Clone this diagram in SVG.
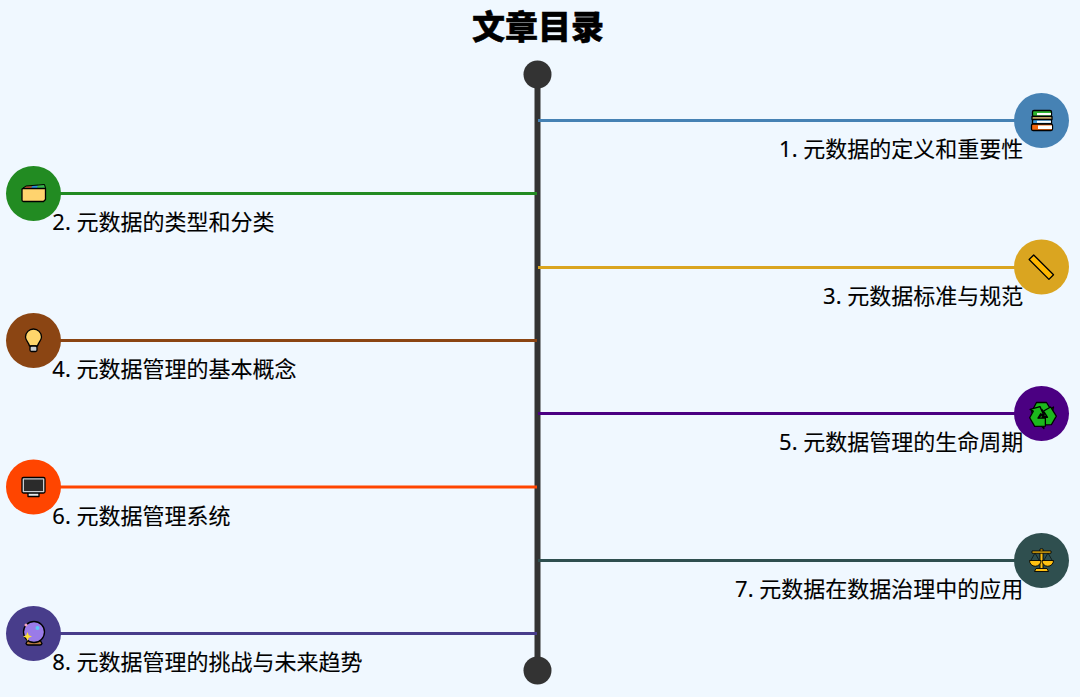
<svg xmlns="http://www.w3.org/2000/svg" width="1080" height="697" viewBox="0 0 1080 697">
<style>
text{font-family:"Noto Sans","Noto Sans CJK SC",sans-serif;fill:#000}
.t{font-size:22px;stroke:#000;stroke-width:.12px}
.r{text-anchor:end}
.title{font-size:33px;font-weight:900;text-anchor:middle;stroke:#000;stroke-width:.5px}
.c{stroke-width:3;fill:none}
.k{stroke:#000;stroke-width:1.300;stroke-linejoin:round}
</style>
<defs>
<path id="arm" d="M-6-12.500H4L8-6 11-8 8.500 2-1 1 2-1-.5-5.500-4 1-11-3z"/>
</defs>
<rect width="1080" height="697" fill="#F0F8FF"/>
<text id="title" class="title" x="538" y="39">文章目录</text>
<g id="timeline">
<line x1="537.5" y1="75" x2="537.5" y2="670" stroke="#333" stroke-width="6"/>
<circle cx="537.5" cy="74.5" r="14" fill="#333"/>
<circle cx="537.5" cy="670.5" r="14" fill="#333"/>
</g>
<g id="connectors" class="c">
<line x1="538" y1="120.5" x2="1041" y2="120.5" stroke="#4682B4"/>
<line x1="34" y1="193.5" x2="537" y2="193.5" stroke="#228B22"/>
<line x1="538" y1="267.5" x2="1041" y2="267.5" stroke="#DAA520"/>
<line x1="34" y1="340.5" x2="537" y2="340.5" stroke="#8B4513"/>
<line x1="538" y1="413.5" x2="1041" y2="413.5" stroke="#4B0082"/>
<line x1="34" y1="487" x2="537" y2="487" stroke="#FF4500"/>
<line x1="538" y1="560.5" x2="1041" y2="560.5" stroke="#2F4F4F"/>
<line x1="34" y1="633.500" x2="537" y2="633.500" stroke="#483D8B"/>
</g>
<g id="node1">
<circle cx="1041.500" cy="120.500" r="27.500" fill="#4682B4"/>
<g class="k">
<rect x="1032.500" y="110.500" width="19" height="6" rx="1.500" fill="#2DB52D"/><rect x="1037" y="113" width="14" height="2.200" fill="#fff" stroke="none"/>
<rect x="1032" y="116.500" width="20" height="3" fill="#FFD983"/>
<rect x="1032.500" y="119.500" width="19" height="4.500" rx="1" fill="#3C9BE0"/><rect x="1037" y="120.800" width="14" height="2" fill="#fff" stroke="none"/>
<rect x="1031.500" y="124" width="21" height="6.500" rx="1.500" fill="#F4660F"/><rect x="1038" y="125.500" width="14" height="3.500" fill="#fff" stroke="none"/>
</g>
</g>
<text class="t r" x="1023.300" y="157">1. 元数据的定义和重要性</text>
<g id="node2">
<circle cx="33.500" cy="193.500" r="27.500" fill="#228B22"/>
<path d="M24 189 26 186.500H33L34 189z" fill="#E8483C"/>
<path d="M31 188 33 185.500H39L40 188z" fill="#2B8FE0"/>
<path d="M37 188 38 184.500H44L45.500 188z" fill="#39B54A"/>
<path d="M23 188 26 186 44.500 184.500 45.500 188" fill="none" stroke="#000"/>
<path class="k" d="M22 189.500Q22 188.500 23 188.500H45.500V199.500L43.500 201.500H23.500Q22 201.500 22 200z" fill="#FFD36E"/>
</g>
<text class="t" x="52.300" y="230">2. 元数据的类型和分类</text>
<g id="node3">
<circle cx="1041.500" cy="267" r="27.500" fill="#DAA520"/>
<rect class="k" x="1027.500" y="264" width="28" height="6.500" fill="#FFB700" transform="rotate(45 1041.500 267)"/>
</g>
<text class="t r" x="1023.300" y="303.500">3. 元数据标准与规范</text>
<g id="node4">
<circle cx="33.500" cy="340.500" r="27.500" fill="#8B4513"/>
<path class="k" d="M33.500 329a8 8 0 0 0-8 8c0 3.500 3 5 4 9h8c1-4 4-5.500 4-9a8 8 0 0 0-8-8z" fill="#FFD56B"/>
<rect class="k" x="30" y="346" width="7" height="5.500" rx="1.500" fill="#C9CED3"/>
</g>
<text class="t" x="52.300" y="377">4. 元数据管理的基本概念</text>
<g id="node5">
<circle cx="1041.500" cy="413.500" r="27.500" fill="#4B0082"/>
<g class="k" fill="#1CB81C" transform="translate(1042.500 415)">
<use href="#arm"/>
<use href="#arm" transform="rotate(120)"/>
<use href="#arm" transform="rotate(240)"/>
</g>
</g>
<text class="t r" x="1023.300" y="450">5. 元数据管理的生命周期</text>
<g id="node6">
<circle cx="33.500" cy="487" r="27.500" fill="#FF4500"/>
<rect class="k" x="28" y="492" width="11" height="4.500" fill="#E4E8EA"/>
<rect class="k" x="22" y="477.500" width="23" height="15.500" rx="1.500" fill="#C9CED3"/>
<rect x="24" y="479.500" width="19" height="11.500" fill="#2B2B2B"/>
</g>
<text class="t" x="52.300" y="523.500">6. 元数据管理系统</text>
<g id="node7">
<circle cx="1041.500" cy="560.500" r="27.500" fill="#2F4F4F"/>
<path d="M1035 553l-4.500 8M1035 553l4.500 8M1048 553l-4.500 8M1048 553l4.500 8" stroke="#000" stroke-width=".6" fill="none"/>
<g fill="#FFC012" stroke="#000" stroke-width=".9" stroke-linejoin="round">
<rect x="1040" y="549" width="3" height="20"/>
<rect x="1032" y="551" width="19" height="2.200"/>
<path d="M1036 568.500h11l1.500 3h-14z"/>
<path d="M1029.500 560.500h11.500a5.750 5.750 0 0 1-11.500 0z"/>
<path d="M1042 560.500h11.500a5.750 5.750 0 0 1-11.500 0z"/>
</g>
</g>
<text class="t r" x="1023.300" y="597">7. 元数据在数据治理中的应用</text>
<g id="node8">
<circle cx="33.500" cy="633.500" r="27.500" fill="#483D8B"/>
<path class="k" d="M28 640h12l2 3.500q-.5 1.500-2 1.500h-12q-1.500 0-2-1.500z" fill="#B5793F"/>
<circle class="k" cx="34" cy="632" r="10.500" fill="#9A7BE8"/>
<circle cx="37.500" cy="628" r="2" fill="#5CC8F5"/>
<circle cx="26" cy="625" r="1.500" fill="#F7A6C0"/>
<path d="M27.500 632l1.300 3.200 3.200 1.300-3.200 1.300-1.300 3.200-1.300-3.200-3.200-1.300 3.200-1.300z" fill="#FFE135"/>
</g>
<text class="t" x="52.300" y="670">8. 元数据管理的挑战与未来趋势</text>
</svg>
